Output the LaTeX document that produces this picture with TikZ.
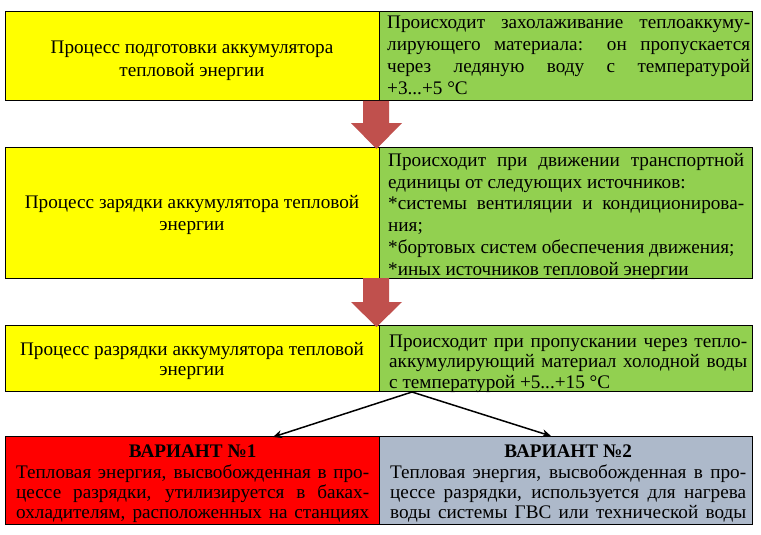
\documentclass[tikz,border=0pt]{standalone}
\usepackage{fontspec}
\setmainfont{Liberation Serif}
\usetikzlibrary{arrows.meta}
\definecolor{yel}{HTML}{FFFF00}
\definecolor{grn}{HTML}{92D050}
\definecolor{rd}{HTML}{FF0000}
\definecolor{gry}{HTML}{ADB9CA}
\definecolor{brk}{HTML}{C0504D}
\newcommand{\jl}[2]{\makebox[#1][s]{#2}}
\tikzset{
  box/.style={draw=black, line width=1pt, inner sep=0pt, anchor=north west},
  ctxt/.style={inner sep=0pt, align=center, anchor=north, font=\fontsize{19.2}{22.5}\selectfont},
  rtxt/.style={inner sep=0pt, align=left, anchor=north west, font=\fontsize{19.2}{21.8}\selectfont},
  cctxt/.style={inner sep=0pt, align=center, anchor=north, font=\fontsize{19.2}{20.3}\selectfont},
  crtxt/.style={inner sep=0pt, align=left, anchor=north west, font=\fontsize{19.2}{20.2}\selectfont},
  blockarrow/.style={fill=brk},
  conn/.style={line width=1.5pt, -{Stealth[length=9pt,width=8pt]}}
}
\begin{document}
\begin{tikzpicture}[x=1pt,y=-1pt]
\useasboundingbox (0,0) rectangle (761,535);
\fill[white] (0,0) rectangle (761,535);
% row 1
\node[box,fill=yel,minimum width=374pt,minimum height=89pt] (p1) at (5,11) {};
\node[box,fill=grn,minimum width=373pt,minimum height=89pt] (d1) at (379,11) {};
\node[ctxt] (p1t) at (192,41) {Процесс подготовки аккумулятора\\тепловой энергии};
\node[rtxt] (d1t) at (387,16) {\jl{363pt}{Происходит захолаживание теплоаккуму-}\\
\jl{363pt}{лирующего материала: он пропускается}\\
\jl{363pt}{через ледяную воду с температурой}\\
+3...+5 °C};
% row 2
\node[box,fill=yel,minimum width=374pt,minimum height=131pt] (p2) at (5,147) {};
\node[box,fill=grn,minimum width=373pt,minimum height=131pt] (d2) at (379,147) {};
\node[ctxt] (p2t) at (192,195) {Процесс зарядки аккумулятора тепловой\\энергии};
\node[rtxt] (d2t) at (388,153) {\jl{356pt}{Происходит при движении транспортной}\\
единицы от следующих источников:\\
\jl{356pt}{*системы вентиляции и кондиционирова-}\\
ния;\\
*бортовых систем обеспечения движения;\\
*иных источников тепловой энергии};
% row 3
\node[box,fill=yel,minimum width=374pt,minimum height=66pt] (p3) at (5,325) {};
\node[box,fill=grn,minimum width=373pt,minimum height=66pt] (d3) at (379,325) {};
\node[cctxt] (p3t) at (192,342) {Процесс разрядки аккумулятора тепловой\\энергии};
\node[crtxt] (d3t) at (389,335) {\jl{358pt}{Происходит при пропускании через тепло-}\\
\jl{358pt}{аккумулирующий материал холодной воды}\\
с температурой +5...+15 °C};
% row 4
\node[box,fill=rd,minimum width=374pt,minimum height=88pt] (v1) at (5,436) {};
\node[box,fill=gry,minimum width=373pt,minimum height=88pt] (v2) at (379,436) {};
\node[crtxt] (v1t) at (16,445) {\makebox[353pt][c]{\bfseries ВАРИАНТ №1}\\
\jl{353pt}{Тепловая энергия, высвобожденная в про-}\\
\jl{353pt}{цессе разрядки, утилизируется в баках-}\\
\jl{353pt}{охладителям, расположенных на станциях}};
\node[crtxt] (v2t) at (390,445) {\makebox[356pt][c]{\bfseries ВАРИАНТ №2}\\
\jl{356pt}{Тепловая энергия, высвобожденная в про-}\\
\jl{356pt}{цессе разрядки, используется для нагрева}\\
\jl{356pt}{воды системы ГВС или технической воды}};
% block arrows
\fill[blockarrow] (363,101) -- (389,101) -- (389,123) -- (402,123) -- (376.5,149) -- (351,123) -- (363,123) -- cycle;
\fill[blockarrow] (363,278) -- (389,278) -- (389,302) -- (402,302) -- (376.5,327) -- (351,302) -- (363,302) -- cycle;
% connectors
\coordinate (split) at (412,392);
\coordinate (t1) at (273,437);
\coordinate (t2) at (551,436);
\draw[conn] (split) -- (t1);
\draw[conn] (split) -- (t2);
\end{tikzpicture}
\end{document}
